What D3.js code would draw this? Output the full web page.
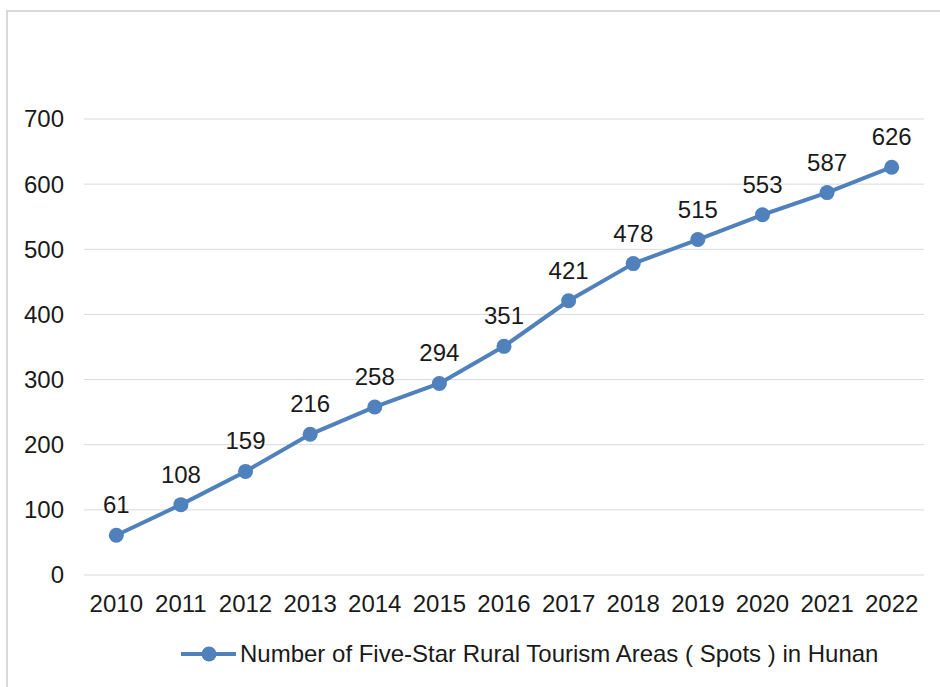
<!DOCTYPE html>
<html>
<head>
<meta charset="utf-8">
<script src="https://cdn.jsdelivr.net/npm/d3@7"></script>
<style>
  body { margin: 0; background: #fff; }
  svg { display: block; font-family: "Liberation Sans", Arial, sans-serif; }
</style>
</head>
<body>
<div id="chart"></div>
<script>
const years = ["2010", "2011", "2012", "2013", "2014", "2015", "2016",
               "2017", "2018", "2019", "2020", "2021", "2022"];
const spots = [61, 108, 159, 216, 258, 294, 351, 421, 478, 515, 553, 587, 626];
const yTicks = [0, 100, 200, 300, 400, 500, 600, 700];
const seriesName = "Number of Five-Star Rural Tourism Areas ( Spots ) in Hunan";

const width = 940, height = 687;
const blue = "#4f81bd";
const fontSize = 24;

const svg = d3.select("#chart").append("svg")
    .attr("width", width)
    .attr("height", height);

// chart frame
svg.append("rect")
    .attr("x", 7).attr("y", 11)
    .attr("width", 940).attr("height", 700)
    .attr("fill", "#fff")
    .attr("stroke", "#d9d9d9")
    .attr("stroke-width", 2);

const plot = {left: 84, right: 924, top: 119, bottom: 575};

const x = d3.scaleBand()
    .domain(years)
    .range([plot.left, plot.right]);

const y = d3.scaleLinear()
    .domain([0, 700])
    .range([plot.bottom, plot.top]);

// gridlines
svg.append("g")
    .selectAll("line")
    .data(yTicks)
    .join("line")
    .attr("x1", plot.left).attr("x2", plot.right)
    .attr("y1", d => y(d)).attr("y2", d => y(d))
    .attr("stroke", "#d9d9d9")
    .attr("stroke-width", 1);

// y axis labels
svg.append("g")
    .selectAll("text")
    .data(yTicks)
    .join("text")
    .attr("x", 64)
    .attr("y", d => y(d))
    .attr("dy", "0.35em")
    .attr("text-anchor", "end")
    .attr("font-size", fontSize)
    .attr("fill", "#1a1a1a")
    .text(d => d);

// x axis labels
svg.append("g")
    .selectAll("text")
    .data(years)
    .join("text")
    .attr("x", d => x(d) + x.bandwidth() / 2)
    .attr("y", 612)
    .attr("text-anchor", "middle")
    .attr("font-size", fontSize)
    .attr("fill", "#1a1a1a")
    .text(d => d);

const pts = years.map((yr, i) => ({year: yr, value: spots[i]}));
const cx = d => x(d.year) + x.bandwidth() / 2;

const line = d3.line()
    .x(cx)
    .y(d => y(d.value));

svg.append("path")
    .datum(pts)
    .attr("d", line)
    .attr("fill", "none")
    .attr("stroke", blue)
    .attr("stroke-width", 4)
    .attr("stroke-linejoin", "round");

svg.append("g")
    .selectAll("circle")
    .data(pts)
    .join("circle")
    .attr("cx", cx)
    .attr("cy", d => y(d.value))
    .attr("r", 7.5)
    .attr("fill", blue);

// data labels
svg.append("g")
    .selectAll("text")
    .data(pts)
    .join("text")
    .attr("x", cx)
    .attr("y", d => y(d.value) - 22)
    .attr("text-anchor", "middle")
    .attr("font-size", fontSize)
    .attr("fill", "#1a1a1a")
    .text(d => d.value);

// legend
const legend = svg.append("g").attr("transform", "translate(181,654)");
legend.append("line")
    .attr("x1", 0).attr("x2", 55)
    .attr("y1", 0).attr("y2", 0)
    .attr("stroke", blue)
    .attr("stroke-width", 4);
legend.append("circle")
    .attr("cx", 28).attr("cy", 0).attr("r", 7.5)
    .attr("fill", blue);
legend.append("text")
    .attr("x", 59)
    .attr("y", 0)
    .attr("dy", "0.35em")
    .attr("font-size", fontSize)
    .attr("fill", "#1a1a1a")
    .text(seriesName);
</script>
</body>
</html>
